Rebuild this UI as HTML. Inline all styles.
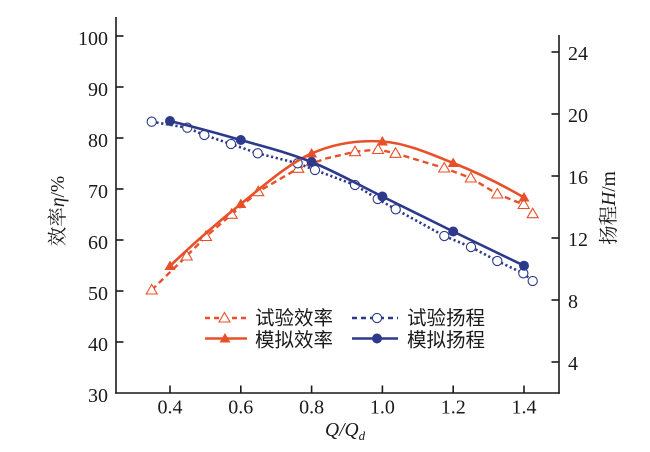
<!DOCTYPE html>
<html>
<head>
<meta charset="utf-8">
<style>
html,body{margin:0;padding:0;background:#fff;}
svg{display:block;}
.tk{font-family:"Liberation Serif","Times New Roman",serif;font-size:20px;fill:#1a1a1a;}
.lg{font-family:"Liberation Sans","Noto Sans CJK SC",sans-serif;font-size:19.5px;fill:#1a1a1a;}
.ax{font-family:"Liberation Serif","Noto Serif CJK SC",serif;font-size:19.5px;fill:#1a1a1a;}
</style>
</head>
<body>
<svg width="650" height="452" viewBox="0 0 650 452" xmlns="http://www.w3.org/2000/svg">
<rect width="650" height="452" fill="#fff"/>

<!-- axes -->
<g stroke="#1a1a1a" stroke-width="1.6" fill="none">
  <line x1="116" y1="17" x2="116" y2="393.8"/>
  <line x1="115.2" y1="393" x2="559.8" y2="393"/>
  <line x1="559" y1="35" x2="559" y2="393.8"/>
  <!-- left ticks -->
  <line x1="116" y1="36" x2="123.5" y2="36"/>
  <line x1="116" y1="87" x2="123.5" y2="87"/>
  <line x1="116" y1="138" x2="123.5" y2="138"/>
  <line x1="116" y1="189" x2="123.5" y2="189"/>
  <line x1="116" y1="240" x2="123.5" y2="240"/>
  <line x1="116" y1="291" x2="123.5" y2="291"/>
  <line x1="116" y1="342" x2="123.5" y2="342"/>
  <!-- right ticks -->
  <line x1="551.5" y1="52" x2="559" y2="52"/>
  <line x1="551.5" y1="114" x2="559" y2="114"/>
  <line x1="551.5" y1="176" x2="559" y2="176"/>
  <line x1="551.5" y1="238" x2="559" y2="238"/>
  <line x1="551.5" y1="300" x2="559" y2="300"/>
  <line x1="551.5" y1="362" x2="559" y2="362"/>
  <!-- bottom ticks -->
  <line x1="170" y1="393" x2="170" y2="385.5"/>
  <line x1="240.8" y1="393" x2="240.8" y2="385.5"/>
  <line x1="311.6" y1="393" x2="311.6" y2="385.5"/>
  <line x1="382.4" y1="393" x2="382.4" y2="385.5"/>
  <line x1="453.2" y1="393" x2="453.2" y2="385.5"/>
  <line x1="524" y1="393" x2="524" y2="385.5"/>
</g>

<!-- left tick labels -->
<g class="tk" text-anchor="end">
  <text x="108" y="45">100</text>
  <text x="108" y="96">90</text>
  <text x="108" y="147">80</text>
  <text x="108" y="198">70</text>
  <text x="108" y="249">60</text>
  <text x="108" y="300">50</text>
  <text x="108" y="351">40</text>
  <text x="108" y="402">30</text>
</g>
<!-- right tick labels -->
<g class="tk" text-anchor="start">
  <text x="568" y="60">24</text>
  <text x="568" y="122">20</text>
  <text x="568" y="184">16</text>
  <text x="568" y="246">12</text>
  <text x="568" y="308">8</text>
  <text x="568" y="370">4</text>
</g>
<!-- bottom tick labels -->
<g class="tk" text-anchor="middle">
  <text x="170" y="413.5">0.4</text>
  <text x="240.8" y="413.5">0.6</text>
  <text x="311.6" y="413.5">0.8</text>
  <text x="382.4" y="413.5">1.0</text>
  <text x="453.2" y="413.5">1.2</text>
  <text x="524" y="413.5">1.4</text>
</g>

<!-- axis titles -->
<text class="ax" transform="translate(64,211) rotate(-90)" text-anchor="middle">效率<tspan font-style="italic">η</tspan>/%</text>
<text class="ax" transform="translate(615,208) rotate(-90)" text-anchor="middle">扬程<tspan font-style="italic">H</tspan>/m</text>
<text class="ax" x="325" y="436" font-style="italic">Q/Q<tspan font-size="13" dy="4">d</tspan></text>

<!-- test efficiency dashed -->
<polyline fill="none" stroke="#e8502a" stroke-width="2.4" stroke-dasharray="6,4" stroke-linejoin="round"
  points="151.7,290 186.7,256 206,236.5 231.7,214.3 258.3,191.7 298.3,168.3 326,158.5 355,151.7 378,149.5 395.5,153.3 444.2,168 470.8,178 497.3,194 523.7,204.5 532.7,213.7"/>
<!-- test head dotted -->
<polyline fill="none" stroke="#2d3a8c" stroke-width="2.6" stroke-dasharray="2.2,2.6" stroke-linejoin="round"
  points="151.7,121.7 187.3,127.7 204.3,135 231,144 257.7,153.3 297.7,163.3 315,170 355,185 377.7,199 395.7,209.3 444.3,236 471,247 497.3,261 523.3,273.3 532.7,281"/>

<!-- test efficiency markers (open triangles) -->
<g fill="#fff" stroke="#e8502a" stroke-width="1.1">
  <polygon points="151.7,284.5 146.2,294 157.2,294"/>
  <polygon points="186.7,250.5 181.2,260 192.2,260"/>
  <polygon points="206,231 200.5,240.5 211.5,240.5"/>
  <polygon points="231.7,208.8 226.2,218.3 237.2,218.3"/>
  <polygon points="258.3,186.2 252.8,195.7 263.8,195.7"/>
  <polygon points="298.3,162.8 292.8,172.3 303.8,172.3"/>
  <polygon points="355,146.2 349.5,155.7 360.5,155.7"/>
  <polygon points="378,144 372.5,153.5 383.5,153.5"/>
  <polygon points="395.5,147.8 390,157.3 401,157.3"/>
  <polygon points="444.2,162.5 438.7,172 449.7,172"/>
  <polygon points="470.8,172.5 465.3,182 476.3,182"/>
  <polygon points="497.3,188.5 491.8,198 502.8,198"/>
  <polygon points="523.7,199 518.2,208.5 529.2,208.5"/>
  <polygon points="532.7,208.2 527.2,217.7 538.2,217.7"/>
</g>
<!-- test head markers (open circles) -->
<g fill="#fff" stroke="#2d3a8c" stroke-width="1.1">
  <circle cx="151.7" cy="121.7" r="4.6"/>
  <circle cx="187.3" cy="127.7" r="4.6"/>
  <circle cx="204.3" cy="135" r="4.6"/>
  <circle cx="231" cy="144" r="4.6"/>
  <circle cx="257.7" cy="153.3" r="4.6"/>
  <circle cx="297.7" cy="163.3" r="4.6"/>
  <circle cx="315" cy="170" r="4.6"/>
  <circle cx="355" cy="185" r="4.6"/>
  <circle cx="377.7" cy="199" r="4.6"/>
  <circle cx="395.7" cy="209.3" r="4.6"/>
  <circle cx="444.3" cy="236" r="4.6"/>
  <circle cx="471" cy="247" r="4.6"/>
  <circle cx="497.3" cy="261" r="4.6"/>
  <circle cx="523.3" cy="273.3" r="4.6"/>
  <circle cx="532.7" cy="281" r="4.6"/>
</g>

<!-- simulated efficiency solid -->
<path fill="none" stroke="#e8502a" stroke-width="2.6"
  d="M170,266 C193.6,243.4 217.2,222.75 240.8,204 C264.4,185.25 288,163.92 311.6,153.5 C335.2,143.08 358.8,139.92 382.4,141.5 C406,143.08 429.6,153.67 453.2,163 C476.8,172.33 500.4,183.8 524,197.5"/>
<!-- simulated head solid -->
<path fill="none" stroke="#2d3a8c" stroke-width="2.6"
  d="M170,121 C193.6,126.83 217.2,133.17 240.8,140 C264.4,146.83 288,152.58 311.6,162 C335.2,171.42 358.8,184.92 382.4,196.5 C406,208.08 429.6,219.97 453.2,231.5 C476.8,243.03 500.4,254.44 524,265.7"/>

<!-- simulated efficiency markers (filled triangles) -->
<g fill="#e8502a">
  <polygon points="170,260.5 164.5,270 175.5,270"/>
  <polygon points="240.8,198.5 235.3,208 246.3,208"/>
  <polygon points="311.6,148 306.1,157.5 317.1,157.5"/>
  <polygon points="382.4,136 376.9,145.5 387.9,145.5"/>
  <polygon points="453.2,157.5 447.7,167 458.7,167"/>
  <polygon points="524,192 518.5,201.5 529.5,201.5"/>
</g>
<!-- simulated head markers (filled circles) -->
<g fill="#2d3a8c">
  <circle cx="170" cy="121" r="5"/>
  <circle cx="240.8" cy="140" r="5"/>
  <circle cx="311.6" cy="162" r="5"/>
  <circle cx="382.4" cy="196.5" r="5"/>
  <circle cx="453.2" cy="231.5" r="5"/>
  <circle cx="524" cy="265.7" r="5"/>
</g>

<!-- legend -->
<g>
  <line x1="205" y1="318" x2="247" y2="318" stroke="#e8502a" stroke-width="2.4" stroke-dasharray="5,4"/>
  <polygon points="224.5,312.5 219,322 230,322" fill="#fff" stroke="#e8502a" stroke-width="1.1"/>
  <line x1="205" y1="338.5" x2="247" y2="338.5" stroke="#e8502a" stroke-width="2.6"/>
  <polygon points="225,333 219.5,342.5 230.5,342.5" fill="#e8502a"/>
  <text class="lg" x="255" y="324.5">试验效率</text>
  <text class="lg" x="255" y="346.5">模拟效率</text>

  <line x1="352" y1="318" x2="398" y2="318" stroke="#2d3a8c" stroke-width="2.4" stroke-dasharray="5,4"/>
  <circle cx="377" cy="318" r="4.6" fill="#fff" stroke="#2d3a8c" stroke-width="1.1"/>
  <line x1="352" y1="338.5" x2="398" y2="338.5" stroke="#2d3a8c" stroke-width="2.6"/>
  <circle cx="377" cy="338.5" r="5" fill="#2d3a8c"/>
  <text class="lg" x="407" y="324.5">试验扬程</text>
  <text class="lg" x="407" y="346.5">模拟扬程</text>
</g>
</svg>
</body>
</html>
